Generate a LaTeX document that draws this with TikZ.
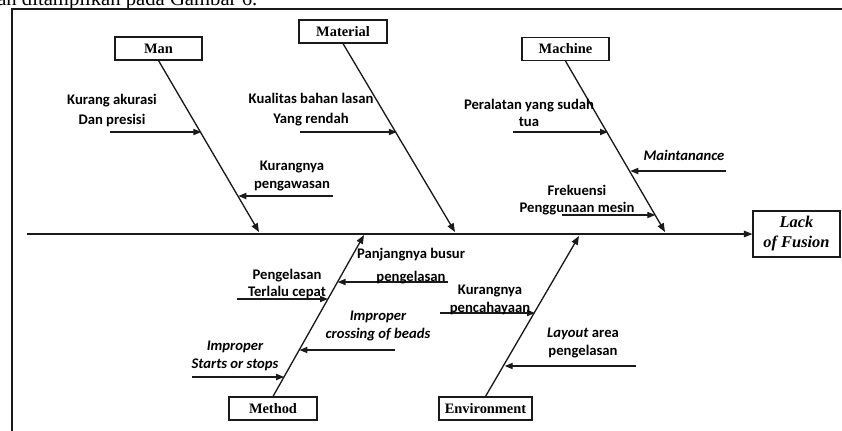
\documentclass[tikz,border=0pt]{standalone}
\usepackage{fontspec}
\setmainfont{Liberation Serif}
\newfontfamily\calib{Carlito}
\usepackage{xcolor}
\usetikzlibrary{arrows.meta}
\definecolor{ink}{HTML}{1A1A1A}

\begin{document}
\begin{tikzpicture}[x=0.75pt,y=-0.75pt,
  catbox/.style={draw=ink,line width=1.1pt,minimum width=#1,minimum height=17pt,inner sep=0pt,font=\fontsize{10.8}{12}\selectfont\bfseries},
  catbox/.default=65pt,
  bone/.style={draw=ink,line width=1pt,-{Triangle[length=6.5pt,width=5pt]}},
  cause/.style={draw=ink,line width=1pt,-{Triangle[length=6pt,width=4.6pt]}},
  lbl/.style={align=center,inner sep=0pt,font=\calib\bfseries\fontsize{11}{13}\selectfont},
  ilbl/.style={lbl,font=\calib\bfseries\itshape\fontsize{11}{13}\selectfont}]
\useasboundingbox (0,0) rectangle (842,430);

% page text cut off above the figure
\node[anchor=base west,inner sep=0pt,font=\fontsize{15.5}{17}\selectfont] (pagetext) at (-3,5) {an ditampilkan pada Gambar 6.};
\draw[ink,line width=1pt] (12,432) |- (844,9);

% head and categories
\node[catbox=65pt,minimum height=34.5pt,align=center,font=\fontsize{12.3}{15}\selectfont\bfseries\itshape] (effect) at (796.5,234) {Lack\\of Fusion};
\node[catbox] (man) at (158.5,48.5) {Man};
\node[catbox=66pt] (material) at (343,31.5) {Material};
\node[catbox] (machine) at (565.5,49) {Machine};
\node[catbox=66pt] (method) at (273,408.5) {Method};
\node[catbox=70pt] (environment) at (485.5,408.5) {Environment};

% spine and bones
\coordinate (tail) at (27,234);
\draw[bone] (tail) -- (effect.west);
\coordinate (manhead) at (259,232);
\coordinate (mathead) at (455,232);
\coordinate (machead) at (665,232);
\coordinate (methead) at (364,235);
\coordinate (envhead) at (579,236);
\draw[bone] (man.south) -- (manhead);
\draw[bone] (material.south) -- (mathead);
\draw[bone] (machine.south) -- (machead);
\draw[bone] (method.north) -- (methead);
\draw[bone] (environment.north) -- (envhead);

% causes
\foreach \n/\a/\b/\y in {ka/110/201.4/132, kp/333/238.3/196, kb/300/396.8/132,
  py/513/608/132, mt/726/630.3/171, fp/562/655.3/215, pt/237/328/299,
  pb/448/337.6/282, ic/395/299.4/350, is/192/284.2/377, kc/440/535/313, la/636/504.7/366}{
  \coordinate (t\n) at (\a,\y);
  \coordinate (h\n) at (\b,\y);
  \draw[cause] (t\n) -- (h\n);
}
\node[lbl] (lka) at (112,110) {Kurang akurasi\\[2pt]Dan presisi};
\node[lbl] (lkp) at (292,176) {Kurangnya\\pengawasan};
\node[lbl] (lkb) at (311,110) {Kualitas bahan lasan\\[2pt]Yang rendah};
\node[lbl] (lpy) at (529,113) {Peralatan yang sudah\\tua};
\node[ilbl] (lmt) at (684,155) {Maintanance};
\node[lbl] (lfp) at (577,200) {Frekuensi\\Penggunaan mesin};
\node[lbl] (lpt) at (287,284) {Pengelasan\\Terlalu cepat};
\node[lbl] (lpb) at (411,266) {Panjangnya busur\\[4pt]pengelasan};
\node[ilbl] (lic) at (378,326) {Improper\\crossing of beads};
\node[ilbl] (lis) at (235,356) {Improper\\Starts or stops};
\node[lbl] (lkc) at (490,300) {Kurangnya\\pencahayaan};
\node[lbl] (lla) at (583,343) {\textit{Layout} area\\pengelasan};
\end{tikzpicture}
\end{document}
